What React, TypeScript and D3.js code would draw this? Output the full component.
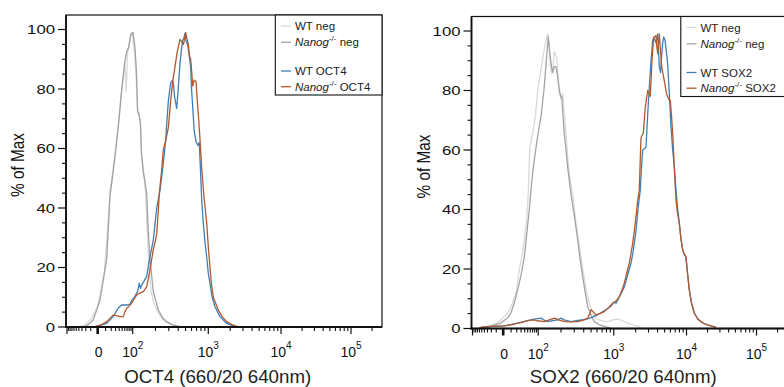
import React from "react";
import * as d3 from "d3";

type Pt = [number, number];

// ---------- data (fluorescence intensity, % of max) ----------
const seriesNames = ["WT neg", "Nanog neg", "WT", "Nanog"];
const markers = ["OCT4", "SOX2"];
const xTitles = ["OCT4 (660/20 640nm)", "SOX2 (660/20 640nm)"];
const yTicks = [0, 20, 40, 60, 80, 100];
const xMajorTicks = [-100, 0, 100, 1000, 10000, 100000];
const xTickLabels = ["", "0", "2", "3", "4", "5"]; // exponent of 10 (or plain 0)

const oct4WtNeg: Pt[] = [[-45,0],[-25,0.4],[-10,2.5],[0,7],[8,18],[14,35],[18,46],[23,52],[30,60],[38,68],[46,78],[54,84],[60,89],[66,79],[72,92],[84,97],[94,99],[100,98],[106,92],[112,82],[116,72],[121,72],[126,69],[131,58],[140,52],[148,45],[155,33],[165,20],[175,12],[190,8],[215,5],[250,2.5],[300,1.2],[360,0.6],[420,0.2]];
const oct4NanogNeg: Pt[] = [[-30,0],[-18,0.4],[-6,2.3],[2.5,9],[11.7,23],[17.5,44],[24,52],[30,59],[37,67],[45,76],[52,83],[60,89],[68,92.5],[78,94],[90,98.5],[101,99],[107,94],[112,86],[116,73],[122,71],[127,68],[131,58],[138,52],[145,49],[153,45],[160,33],[169,23],[187,12],[218,5.7],[250,3],[282,1.8],[330,0.8],[401,0.2]];
const oct4Wt: Pt[] = [[-5,0],[0.6,0.3],[11.7,1.2],[24,3.5],[37,6.3],[48,7.4],[70,7.4],[84,7.6],[95,9],[107,10.2],[116,12],[122,14.7],[127,13],[131,14],[142,15.5],[153,17],[169,23.6],[187,29],[200,36],[208,40],[230,46],[254,55],[273,63],[296,76],[318,82],[335,83],[344,82],[360,77],[382,73.5],[400,80],[422,88.6],[440,93],[459,96.5],[475,97],[492,98.7],[510,96],[534,94.8],[560,91],[585,87.5],[600,80],[622,74],[650,66],[688,62.3],[730,61],[760,62],[790,52],[818,42.7],[859,35],[900,29],[952,23.6],[1000,18],[1055,14.7],[1130,10],[1236,6.8],[1448,3.5],[1791,1.2],[2200,0.4],[2458,0.1]];
const oct4Nanog: Pt[] = [[-5,0],[-1.2,0.3],[5,0.9],[11.7,1.8],[24,4],[32,3.8],[43,3.5],[54,3.5],[60,5],[68,6.3],[80,7],[94,8],[105,9.5],[113,10.8],[125,11.5],[138,11.9],[153,13.5],[169,19],[187,26],[200,29],[208,31.5],[218,39],[225,45],[240,52],[254,59.5],[275,63],[296,67],[318,76],[340,83],[363,87.5],[385,92],[400,94],[422,96.7],[440,96],[470,95],[502,99],[520,97],[544,95],[565,91],[585,90],[610,84],[622,81],[650,83],[688,82.5],[715,76],[745,70],[777,63],[820,53],[877,43.8],[952,35],[1000,27],[1055,20],[1110,14],[1172,10],[1372,5.7],[1550,3.5],[1791,1.8],[2200,0.6],[2505,0.1]];

const sox2WtNeg: Pt[] = [[-60,0.2],[-40,0.5],[-20,1.2],[-7.6,1.8],[5.2,5.2],[12,8.5],[18.5,11.9],[25.6,19.7],[32,24],[39,29.8],[46,36],[52,45],[58,61],[70.6,65.6],[85,72],[97,80],[107,86],[115,91],[127,97],[134,99],[140,95],[145,88],[150,86],[156,87],[163,93],[170,92],[176,91],[187,82],[200,77],[211,79],[220,73],[233,65.6],[245,58],[258,52],[286,45],[316,35.4],[340,30],[368,24],[400,18],[429,13],[480,8],[552,4],[650,2.8],[750,2.4],[831,2.3],[950,2.8],[1131,3.2],[1250,2.8],[1394,2.3],[1700,1.5],[2132,0.7],[2400,0.2]];
const sox2NanogNeg: Pt[] = [[-40,0.2],[-21,0.7],[-2.7,1.9],[5,3.5],[9.8,5.3],[15,8.5],[22,13],[30,18],[39,24],[48,33],[56,40],[63,46.5],[70,52],[78,56.6],[90,62],[103,67.8],[110,72],[120,81],[128,90],[136,98],[142,93],[148,89],[155,86],[163,88],[172,88],[180,85],[190,80],[198,78],[205,78],[212,72],[221,65.6],[233,60],[246,54],[260,49],[272,45],[300,38],[333,29.8],[360,23],[388,17.4],[420,12],[452,7.4],[500,4.5],[552,2.3],[650,1.2],[749,0.7],[900,0.2]];
const sox2Wt: Pt[] = [[-60,0.2],[-46,0.3],[-20,0.6],[1.2,0.9],[22,1.8],[40,2.4],[63,2.9],[85,3.2],[109,3.5],[120,2.8],[134,2.3],[150,2.6],[181,2.9],[200,3.5],[225,2.8],[272,2.3],[320,2.6],[376,2.9],[450,3.2],[520,3.8],[612,4.6],[700,5.5],[800,6.5],[918,7.5],[1000,8.8],[1072,8.5],[1190,10.5],[1394,14],[1550,18],[1724,22],[1850,26],[2020,33],[2150,40],[2315,46.5],[2400,54],[2497,60],[2650,60.5],[2773,61],[2926,72],[3078,81],[3250,90],[3429,97],[3600,97.5],[3806,96],[4018,99],[4226,88],[4400,86],[4560,92],[4700,96],[4858,98],[5062,97],[5224,94],[5512,89],[5800,79],[6120,67.8],[6459,60],[6796,54.4],[7171,46.5],[7500,41],[7962,35.4],[8400,30],[8866,26.4],[9300,25],[9842,24],[10300,19],[10965,13],[11800,8.5],[12925,5.2],[14500,3.2],[16110,2.3],[18000,1.6],[20090,1.2],[23000,0.8],[26390,0.4]];
const sox2Nanog: Pt[] = [[-60,0.3],[-46,0.5],[-20,0.7],[1.2,0.9],[12,1.3],[22,1.8],[30,2.0],[39,2.3],[55,2.7],[78,2.9],[95,2.6],[120,2.3],[140,2.9],[163,3.5],[190,2.8],[221,2.3],[270,2.2],[333,2.3],[400,2.8],[452,3.5],[480,5],[499,6.3],[540,5.5],[582,4.6],[650,5],[749,5.7],[850,7],[967,8.5],[1072,9.2],[1190,10.7],[1300,13],[1394,15.2],[1500,18.5],[1634,22],[1720,25],[1820,28.7],[1920,33],[2020,37.6],[2132,43],[2243,46.5],[2300,55],[2366,64],[2450,65],[2546,65.6],[2700,74],[2926,80],[3050,79],[3178,78],[3350,90],[3539,98],[3680,98],[3806,98.5],[3900,95],[4018,92.4],[4120,96],[4226,99],[4400,93],[4560,88],[4800,85],[5062,82],[5300,79],[5512,77.9],[5750,77],[5987,76.7],[6200,72],[6459,65.6],[6800,54],[7171,43],[7500,39],[7962,35.4],[8400,30],[8866,26.4],[9300,25],[9842,24],[10300,19],[10965,13],[11800,8.5],[12925,5.2],[14500,3.2],[16110,2.3],[18000,1.6],[20090,1.2],[23000,0.8],[26390,0.4]];

const colors = ["#d9d9d9", "#a3a3a3", "#3f7fb5", "#b4582e"];

// ---------- biexponential-like display transform ----------
const C = 20;
const biex = (v: number) =>
  v >= 100 ? Math.log10(v) : (Math.sign(v) * 2 * Math.log1p(Math.abs(v) / C)) / Math.log1p(100 / C);

const FONT = "Liberation Sans, Arial, Helvetica, sans-serif";

function minorTicks(): number[] {
  const out: number[] = [];
  for (let k = 1; k <= 9; k++) { out.push(-10 * k); out.push(10 * k); }
  [100, 1000, 10000].forEach((dec) => { for (let k = 2; k <= 9; k++) out.push(k * dec); });
  out.push(200000);
  return out;
}

function Panel({ idx, ox, oy, data }: { idx: number; ox: number; oy: number; data: Pt[][] }) {
  const frameL = 66 + ox, frameR = 382 + ox, frameT = 15 + oy, frameB = 327 + oy;
  const x = d3.scaleLinear().domain([-2, 0, 2, 3, 4, 5]).range([67, 97.7, 132.7, 208.3, 281, 351].map((d) => d + ox));
  const y = d3.scaleLinear().domain([0, 100]).range([327 + oy, 29.5 + oy]);
  const line = d3.line<Pt>().x((d) => x(biex(d[0]))).y((d) => y(d[1]));
  const yMinor = d3.range(0, 101, 5).filter((v) => v % 20 !== 0);
  const clipId = `clip${idx}`;
  const legY = [26, 42.3, 71, 86.7].map((d) => d + oy);
  const legX = 281 + ox;
  return (
    <g>
      <defs>
        <clipPath id={clipId}>
          <rect x={frameL} y={frameT} width={frameR - frameL} height={frameB - frameT} />
        </clipPath>
      </defs>
      <g clipPath={`url(#${clipId})`}>
        {data.map((s, i) => (
          <path key={i} d={line(s) || ""} fill="none" stroke={colors[i]} strokeWidth={1.3} strokeLinejoin="round" />
        ))}
      </g>
      {/* frame */}
      <rect x={frameL} y={frameT} width={frameR - frameL} height={frameB - frameT} fill="none" stroke="#111" strokeWidth={1.2} />
      <line x1={frameL} x2={frameL} y1={frameT} y2={frameB + 1} stroke="#111" strokeWidth={1.8} />
      <line x1={frameL - 1} x2={frameR} y1={frameB} y2={frameB} stroke="#111" strokeWidth={1.8} />
      {/* y axis */}
      {yTicks.map((t) => (
        <g key={t}>
          <line x1={frameL - 8} x2={frameL} y1={y(t)} y2={y(t)} stroke="#111" strokeWidth={1.2} />
          <text x={frameL - 11} y={y(t) + 4.8} textAnchor="end" fontSize={13.5} fontFamily={FONT} fill="#111"
            textLength={String(t).length * 9.3} lengthAdjust="spacingAndGlyphs">{t}</text>
        </g>
      ))}
      {yMinor.map((t) => (
        <line key={t} x1={frameL - 4} x2={frameL} y1={y(t)} y2={y(t)} stroke="#111" strokeWidth={1.1} />
      ))}
      <text transform={`translate(${17.5 + ox},${165 + oy}) rotate(-90)`} textAnchor="middle" fontSize={19}
        fontFamily={FONT} fill="#111" textLength={64} lengthAdjust="spacingAndGlyphs" dy="0.35em">% of Max</text>
      {/* x axis */}
      {xMajorTicks.map((t, i) => (
        <g key={t}>
          <line x1={x(biex(t))} x2={x(biex(t))} y1={frameB} y2={frameB + 7} stroke="#111" strokeWidth={t === 0 ? 2.6 : 1.2} />
          {xTickLabels[i] === "0" && (
            <text x={x(biex(t)) + 1} y={frameB + 30} textAnchor="middle" fontSize={14} fontFamily={FONT} fill="#111">0</text>
          )}
          {xTickLabels[i] !== "" && xTickLabels[i] !== "0" && (
            <text x={x(biex(t))} y={frameB + 30} textAnchor="middle" fontSize={14} fontFamily={FONT} fill="#111">
              10<tspan fontSize={10} dy={-8}>{xTickLabels[i]}</tspan>
            </text>
          )}
        </g>
      ))}
      {minorTicks().filter((t) => x(biex(t)) < frameR).map((t) => (
        <line key={t} x1={x(biex(t))} x2={x(biex(t))} y1={frameB} y2={frameB + 4} stroke="#111" strokeWidth={1.1} />
      ))}
      <text x={217.7 + ox} y={383} textAnchor="middle" fontSize={18.5} fontFamily={FONT} fill="#222"
        textLength={187} lengthAdjust="spacingAndGlyphs">{xTitles[idx]}</text>
      {/* legend */}
      <rect x={275.3 + ox} y={frameT} width={frameR - 275.3 - ox} height={80} fill="white" stroke="#111" strokeWidth={1.1} />
      {seriesNames.map((name, i) => {
        const yy = legY[i];
        const isNanog = name.startsWith("Nanog");
        const suffix = i < 2 ? "neg" : markers[idx];
        return (
          <g key={i}>
            <line x1={legX} x2={legX + 10} y1={yy} y2={yy} stroke={colors[i]} strokeWidth={1.3} />
            <text x={legX + 14} y={yy + 4} fontSize={11.5} fontFamily={FONT} fill="#222">
              {isNanog ? (
                <>
                  <tspan fontStyle="italic">Nanog</tspan>
                  <tspan fontSize={8} dy={-5}>-/-</tspan>
                  <tspan dy={5}>{" " + suffix}</tspan>
                </>
              ) : (
                `WT ${suffix}`
              )}
            </text>
          </g>
        );
      })}
    </g>
  );
}

export default function App() {
  return (
    <svg width={784} height={387} style={{ position: "absolute", left: 0, top: 0, background: "white" }}>
      <rect width={784} height={387} fill="white" />
      <Panel idx={0} ox={0} oy={0} data={[oct4WtNeg, oct4NanogNeg, oct4Wt, oct4Nanog]} />
      <Panel idx={1} ox={405.5} oy={1.5} data={[sox2WtNeg, sox2NanogNeg, sox2Wt, sox2Nanog]} />
    </svg>
  );
}
